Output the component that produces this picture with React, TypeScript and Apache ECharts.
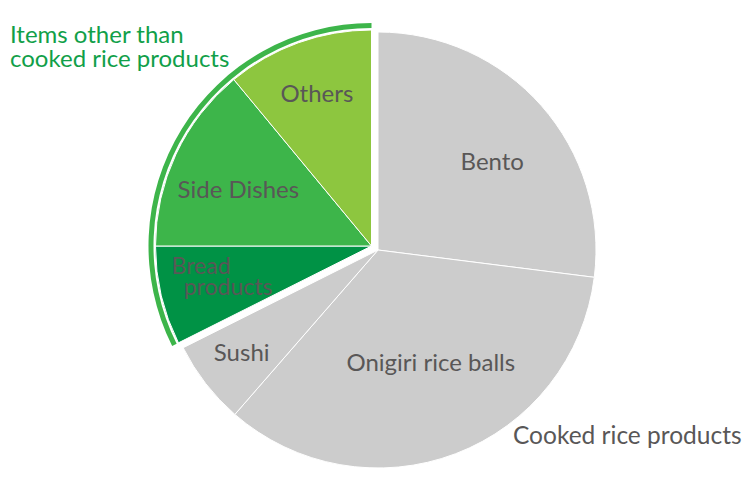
import * as echarts from "echarts";
import { useEffect, useRef } from "react";

// share of sales (%), read clockwise from 12 o'clock
const categories = ["Bento", "Onigiri rice balls", "Sushi", "Bread\nproducts", "Side Dishes", "Others"];
const shares = [27.0, 34.4, 6.2, 7.4, 14.0, 11.0];
const groupOf = ["rice", "rice", "rice", "other", "other", "other"];
const groupLabels = ["Cooked rice products", "Items other than\ncooked rice products"];

const sliceColors = ["#cccccc", "#cccccc", "#cccccc", "#009245", "#3db54a", "#8dc63f"];
const ringColor = "#3db54a";
const textColor = "#595757";
const greenText = "#119f49";
const font = "Lato";

// small nudges so the inside labels sit where the original put them
const labelNudge = [
	[4, 12],
	[2, -28],
	[-14, 11],
	[0, -7],
	[0, 5],
	[-7, -13],
];

const hidden = { color: "transparent", borderWidth: 0 };

function slices(group: string) {
	return categories.map((name, i) => ({
		name,
		value: shares[i],
		itemStyle:
			groupOf[i] === group
				? { color: sliceColors[i], borderColor: "#fff", borderWidth: 1 }
				: hidden,
	}));
}

function groupTotal(group: string) {
	return shares.reduce((s, v, i) => (groupOf[i] === group ? s + v : s), 0);
}

// the two-line label is drawn with its first line pulled to the left
function labelText(name: string) {
	const lines = name.split("\n");
	if (lines.length < 2) return name;
	return `{first|${lines[0]}}\n{rest|${lines.slice(1).join("\n")}}`;
}

export default function App() {
	const ref = useRef<HTMLDivElement>(null);
	useEffect(() => {
		if (!ref.current) return;
		const chart = echarts.init(ref.current, null, { renderer: "svg" });
		const base = {
			type: "pie",
			startAngle: 90,
			clockwise: true,
			silent: true,
			label: { show: false },
			labelLine: { show: false },
		};
		chart.setOption({
			animation: false,
			series: [
				{ ...base, center: [378, 250], radius: 218, data: slices("rice") },
				{ ...base, center: [371.5, 246], radius: 216, data: slices("other") },
				{
					...base,
					center: [371.5, 246],
					radius: [218, 223],
					data: [
						{ value: groupTotal("rice"), itemStyle: hidden },
						{ value: groupTotal("other"), itemStyle: { color: ringColor, borderWidth: 0 } },
					],
				},
				{
					...base,
					center: [375, 248],
					radius: [80, 216],
					z: 5,
					label: {
						show: true,
						position: "inside",
						color: textColor,
						fontSize: 24,
						fontFamily: font,
						lineHeight: 24,
						formatter: (p: { name: string }) => labelText(p.name),
						rich: {
							first: {
								color: textColor,
								fontSize: 23,
								fontFamily: font,
								lineHeight: 21,
								padding: [0, 54, 0, 0],
							},
							rest: { color: textColor, fontSize: 23, fontFamily: font, lineHeight: 21 },
						},
					},
					labelLayout: (p: { dataIndex: number }) => ({
						dx: labelNudge[p.dataIndex][0],
						dy: labelNudge[p.dataIndex][1],
					}),
					data: categories.map((name, i) => ({ name, value: shares[i], itemStyle: hidden })),
				},
			],
			graphic: [
				{
					type: "text",
					left: 513,
					top: 422,
					style: { text: groupLabels[0], fill: textColor, fontSize: 24.5, fontFamily: font },
				},
				{
					type: "text",
					left: 10,
					top: 21,
					style: {
						text: groupLabels[1],
						fill: greenText,
						fontSize: 24,
						fontFamily: font,
						lineHeight: 24,
					},
				},
			],
		});
		return () => chart.dispose();
	}, []);
	return <div ref={ref} style={{ width: 750, height: 500, margin: -8 }} />;
}
